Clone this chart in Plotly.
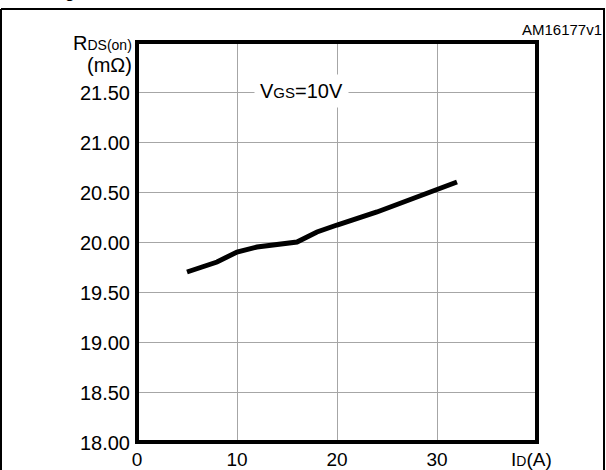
import plotly.graph_objects as go

# Data
id_a = [5, 8, 10, 12, 16, 18, 20, 24, 32]
rds_mohm = [19.70, 19.80, 19.90, 19.95, 20.00, 20.10, 20.17, 20.30, 20.60]

x_ticks = [0, 10, 20, 30]
y_ticks = [18.0, 18.5, 19.0, 19.5, 20.0, 20.5, 21.0, 21.5]
y_tick_text = ["18.00", "18.50", "19.00", "19.50", "20.00", "20.50", "21.00", "21.50"]

FONT = "Liberation Sans, Arial, Helvetica, sans-serif"
W, H = 606, 470
L, R, T, B = 137, 69, 42, 28
PW, PH = W - L - R, H - T - B


def px(xp):
    return (xp - L) / PW


def py(yp):
    return (H - B - yp) / PH


fig = go.Figure()
fig.add_trace(go.Scatter(
    x=id_a, y=rds_mohm, mode="lines",
    line=dict(color="black", width=5, shape="linear"),
    hoverinfo="skip", showlegend=False,
))

fig.update_xaxes(
    range=[0, 40], tickvals=x_ticks, ticktext=[str(v) for v in x_ticks],
    showgrid=True, gridcolor="#a6a6a6", gridwidth=1,
    zeroline=False, showline=False, ticks="",
    tickfont=dict(family=FONT, size=19, color="black"),
    ticklabelstandoff=4, automargin=False, fixedrange=True,
)
fig.update_yaxes(
    range=[18, 22], tickvals=y_ticks, ticktext=y_tick_text,
    showgrid=True, gridcolor="#a6a6a6", gridwidth=1,
    zeroline=False, showline=False, ticks="",
    tickfont=dict(family=FONT, size=20, color="black"),
    ticklabelstandoff=6, ticklabelshift=1, automargin=False, fixedrange=True,
)

shapes = [
    dict(type="rect", xref="paper", yref="paper", x0=0, x1=1, y0=0, y1=1,
         line=dict(color="black", width=4), layer="above"),
    dict(type="line", xref="paper", yref="paper", x0=px(1), x1=px(605), y0=py(9), y1=py(9),
         line=dict(color="black", width=2)),
    dict(type="line", xref="paper", yref="paper", x0=px(1), x1=px(1), y0=py(9), y1=py(480),
         line=dict(color="black", width=2)),
    dict(type="line", xref="paper", yref="paper", x0=px(604), x1=px(604), y0=py(9), y1=py(480),
         line=dict(color="black", width=2)),
]

fig.update_layout(
    width=W, height=H,
    margin=dict(l=L, r=R, t=T, b=B, autoexpand=False),
    paper_bgcolor="white", plot_bgcolor="white",
    shapes=shapes,
    showlegend=False,
)

fig.add_annotation(text="(mΩ)", x=px(134), y=py(65), xref="paper", yref="paper",
                   xanchor="right", yanchor="middle", showarrow=False,
                   font=dict(family=FONT, size=20, color="black"))
fig.add_annotation(text='R<span style="font-size:14px">DS(on)</span>', x=px(134), y=py(43),
                   xref="paper", yref="paper",
                   xanchor="right", yanchor="middle", showarrow=False,
                   font=dict(family=FONT, size=20, color="black"))
fig.add_annotation(text='V<span style="font-size:15px">GS</span>=10V', x=px(301), y=py(91),
                   xref="paper", yref="paper",
                   xanchor="center", yanchor="middle", showarrow=False, bgcolor="white", borderpad=5,
                   font=dict(family=FONT, size=20, color="black"))
fig.add_annotation(text='I<span style="font-size:14px">D</span>(A)', x=px(531), y=py(459),
                   xref="paper", yref="paper",
                   xanchor="center", yanchor="middle", showarrow=False,
                   font=dict(family=FONT, size=19, color="black"))
fig.add_annotation(text="AM16177v1", x=px(604), y=py(30), xref="paper", yref="paper",
                   xanchor="right", yanchor="middle", showarrow=False,
                   font=dict(family=FONT, size=15, color="black"))
fig.add_annotation(text="<b>g</b>", x=px(70), y=py(-7), xref="paper", yref="paper",
                   xanchor="center", yanchor="middle", showarrow=False,
                   font=dict(family=FONT, size=16, color="black"))

fig.write_html("out.html", config={"displayModeBar": False})
